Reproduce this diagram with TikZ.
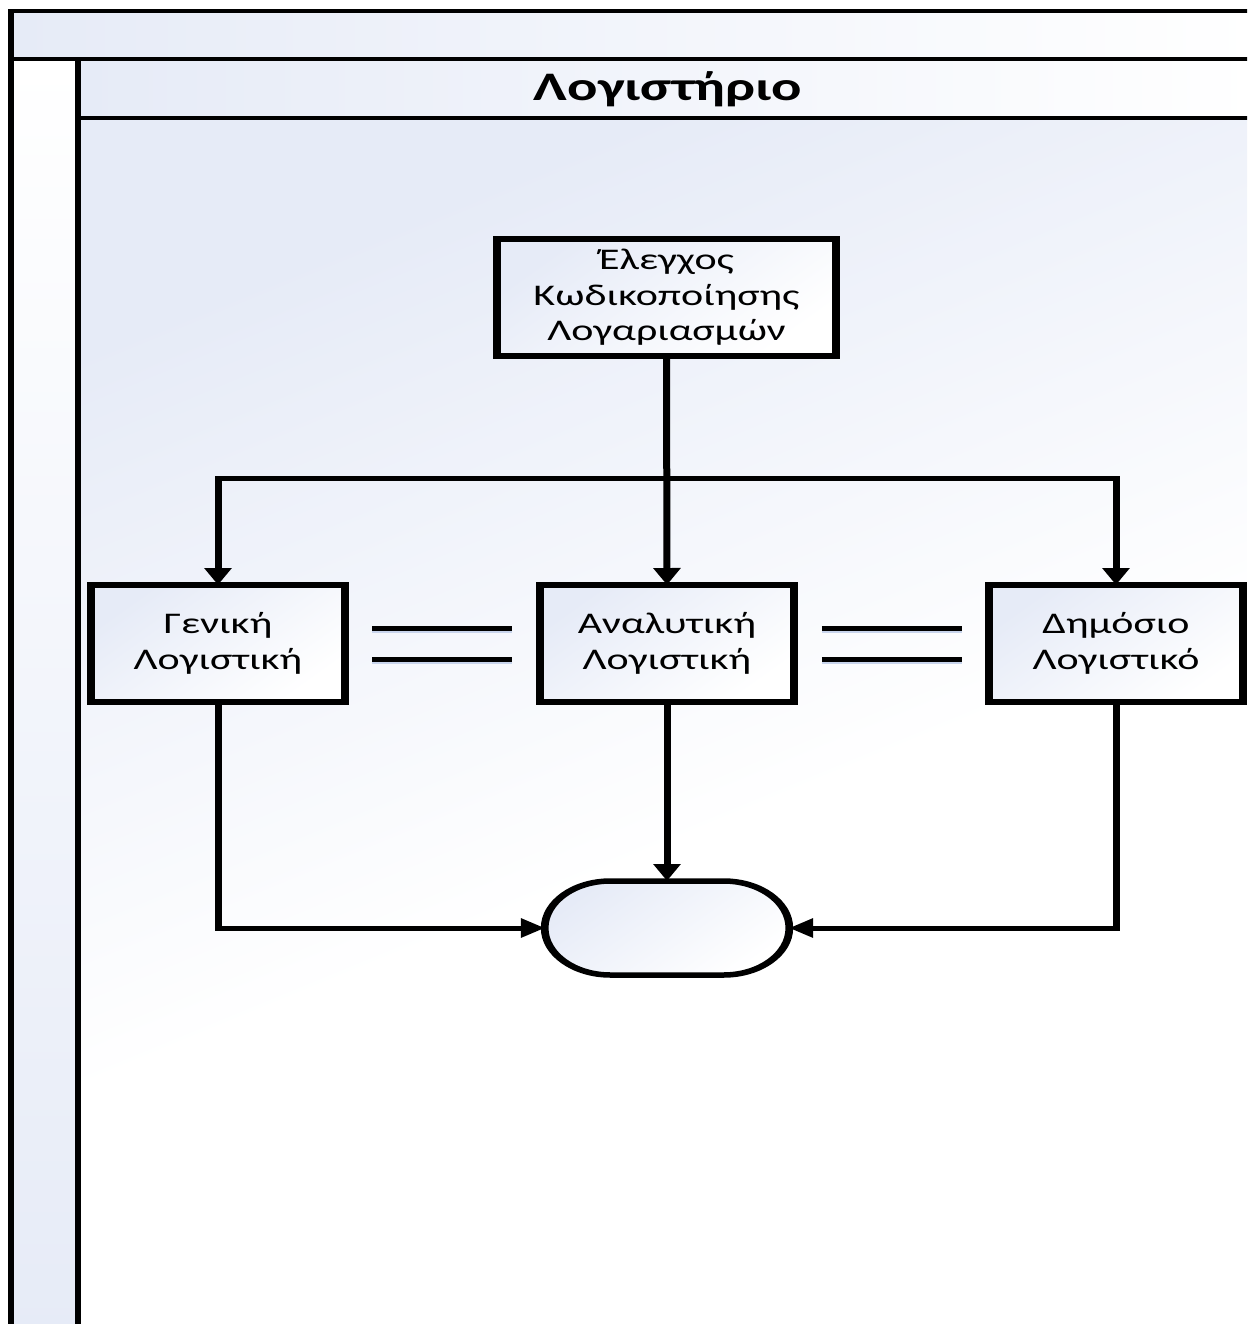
\documentclass[tikz,border=0pt]{standalone}
\usepackage{fontspec}
\setmainfont{Carlito}
\usetikzlibrary{arrows.meta,shapes.misc,calc}
\definecolor{lb}{RGB}{230,235,247}
\definecolor{shadowblue}{RGB}{200,212,236}
\pgfdeclareverticalshading{mainsh}{100bp}{color(0bp)=(white); color(25bp)=(white); color(45bp)=(white); color(75bp)=(lb); color(100bp)=(lb)}
\tikzset{
  stepbox/.style={draw=black, line width=5.5pt, minimum width=181.4pt, minimum height=117pt,
    outer sep=0pt, inner sep=0pt, align=center, font=\fontsize{30}{35.5}\selectfont,
    left color=lb, right color=white, shading angle=45},
  termbox/.style={draw=black, line width=5.5pt, rounded rectangle, minimum width=181.4pt,
    minimum height=94pt, outer sep=0pt, left color=lb, right color=white, shading angle=45},
  conn/.style={line width=5pt, -{Triangle[width=18.6pt,length=17pt]}},
  eqline/.style={line width=5pt},
  eqshadow/.style={line width=4pt, shadowblue},
  frame/.style={line width=4pt, black}
}
\begin{document}
\begin{tikzpicture}[x=1pt,y=-1pt]
\useasboundingbox (0,0) rectangle (1247,1324);
\clip (0,0) rectangle (1247,1324);
\fill[white] (0,0) rectangle (1247,1324);
\begin{scope}[transform canvas={xscale=1.4}, x=0.7142857pt]
% backgrounds
\shade[left color=lb, right color=white] (11,11) rectangle (1260,59);
\shade[top color=white, bottom color=lb] (11,59) rectangle (78,1340);
\shade[left color=lb, right color=white] (78,59) rectangle (1260,118);
\shade[shading=mainsh, shading angle=30] (78,118) rectangle (1260,1340);
% frame
\draw[frame] (11,11) rectangle (1265,1345);
\draw[frame] (11,59) -- (1265,59);
\draw[frame] (78,59) -- (78,1345);
\draw[frame] (78,118) -- (1265,118);
\node[font=\bfseries\fontsize{40.5}{44}\selectfont] (title) at (668,89) {Λογιστήριο};
% nodes
\node[stepbox, minimum width=242.1pt] (top) at (666.5,297.5) {Έλεγχος\\Κωδικοποίησης\\Λογαριασμών};
\node[stepbox] (gen) at (218,643.5) {Γενική\\Λογιστική};
\node[stepbox] (ana) at (667,643.5) {Αναλυτική\\Λογιστική};
\node[stepbox] (dim) at (1116,643.5) {Δημόσιο\\Λογιστικό};
\node[termbox] (end) at (667,928) {};
\coordinate (br) at (666.5,478);
% connectors
\draw[conn] (top.south) -- (ana.north);
\draw[conn] (br) -| (gen.north);
\draw[conn] (br) -| (dim.north);
\draw[conn] (ana.south) -- (end.north);
\draw[conn] (gen.south) |- (end.west);
\draw[conn] (dim.south) |- (end.east);
% equality bars (with faint shadow)
\foreach \a/\b/\sa/\sb in {gen/ana/19.3/20, ana/dim/20/19.3}{
  \foreach \dy in {15.5,-15.5}{
    \draw[eqshadow] ([xshift=\sa pt,yshift=\dy pt-2.5pt]\a.east) -- ([xshift=-\sb pt,yshift=\dy pt-2.5pt]\b.west);
    \draw[eqline] ([xshift=\sa pt,yshift=\dy pt]\a.east) -- ([xshift=-\sb pt,yshift=\dy pt]\b.west);
  }
}
\end{scope}
\end{tikzpicture}
\end{document}
